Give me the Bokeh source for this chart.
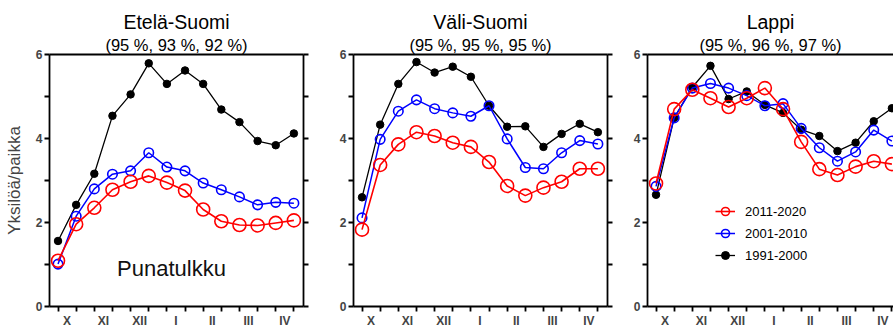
from bokeh.plotting import figure
from bokeh.models import Range1d, LinearAxis, FixedTicker, Label, Legend, LegendItem, Title
from bokeh.layouts import row
from bokeh.embed import file_html
from bokeh.resources import INLINE

# ---------------- data ----------------
months = ["X", "XI", "XII", "I", "II", "III", "IV"]
n_periods = 14  # two half-month periods per month

regions = ["Etelä-Suomi", "Väli-Suomi", "Lappi"]
shares = ["(95 %, 93 %, 92 %)", "(95 %, 95 %, 95 %)", "(95 %, 96 %, 97 %)"]
series_labels = ["2011-2020", "2001-2010", "1991-2000"]
species = "Punatulkku"
y_label = "Yksilöä/paikka"

etela_2011_2020 = [1.09, 1.96, 2.35, 2.78, 2.97, 3.11, 2.95, 2.76, 2.31, 2.03, 1.94, 1.93, 1.99, 2.05]
etela_2001_2010 = [1.01, 2.15, 2.80, 3.15, 3.23, 3.66, 3.32, 3.23, 2.94, 2.78, 2.61, 2.42, 2.48, 2.46]
etela_1991_2000 = [1.56, 2.42, 3.16, 4.54, 5.05, 5.79, 5.30, 5.62, 5.30, 4.69, 4.39, 3.94, 3.84, 4.12]

vali_2011_2020 = [1.83, 3.37, 3.86, 4.15, 4.06, 3.90, 3.80, 3.44, 2.87, 2.64, 2.83, 2.97, 3.28, 3.28]
vali_2001_2010 = [2.11, 3.98, 4.65, 4.92, 4.71, 4.61, 4.53, 4.78, 3.99, 3.31, 3.28, 3.66, 3.95, 3.87]
vali_1991_2000 = [2.60, 4.33, 5.30, 5.82, 5.57, 5.71, 5.47, 4.78, 4.28, 4.29, 3.80, 4.11, 4.35, 4.15]

lappi_2011_2020 = [2.93, 4.70, 5.16, 4.96, 4.75, 4.96, 5.20, 4.70, 3.92, 3.27, 3.13, 3.33, 3.46, 3.39]
lappi_2001_2010 = [2.86, 4.49, 5.20, 5.31, 5.20, 5.02, 4.78, 4.83, 4.24, 3.78, 3.46, 3.68, 4.20, 3.94]
lappi_1991_2000 = [2.66, 4.49, 5.22, 5.73, 4.94, 5.12, 4.80, 4.61, 4.21, 4.06, 3.70, 3.90, 4.41, 4.72]

panel_data = [
    (etela_2011_2020, etela_2001_2010, etela_1991_2000),
    (vali_2011_2020, vali_2001_2010, vali_1991_2000),
    (lappi_2011_2020, lappi_2001_2010, lappi_1991_2000),
]

# ---------------- layout / style ----------------
FONT = "Liberation Sans"
FRAME_H = 252
TOP, BOTTOM = 54, 22
X_START = -0.485
PX_PER_UNIT = 254 / 7.0
# half-month period centres: month k spans k-0.5 .. k+0.5
x_pos = [i * 0.5 - 0.25 for i in range(n_periods)]

panel_cfg = [
    dict(frame_w=254, min_left=49, min_right=10, right_axis=True),
    dict(frame_w=254, min_left=40, min_right=10, right_axis=True),
    dict(frame_w=246, min_left=30, min_right=0, right_axis=False),
]

styles = {
    "2011-2020": dict(color="#FF0000", size=13, fill=None, lw=1.6, mlw=1.6),
    "2001-2010": dict(color="#0000FF", size=9.5, fill=None, lw=1.5, mlw=1.6),
    "1991-2000": dict(color="#000000", size=7.5, fill="#000000", lw=1.3, mlw=1.0),
}

LW = 1.8

figs = []
for k in range(3):
    cfg = panel_cfg[k]
    x_end = X_START + cfg["frame_w"] / PX_PER_UNIT
    p = figure(frame_width=cfg["frame_w"], frame_height=FRAME_H,
               x_range=Range1d(X_START, x_end), y_range=Range1d(0, 6),
               min_border_left=cfg["min_left"], min_border_right=cfg["min_right"],
               min_border_top=TOP, min_border_bottom=BOTTOM,
               x_axis_type=None, y_axis_type=None,
               output_backend="svg", toolbar_location=None)
    p.outline_line_color = None
    p.background_fill_color = "white"
    p.border_fill_color = "white"

    # left axis
    left = LinearAxis(ticker=FixedTicker(ticks=[0, 2, 4, 6], minor_ticks=[1, 3, 5]),
                      major_tick_out=5, major_tick_in=0, minor_tick_out=5, minor_tick_in=0,
                      axis_line_width=LW, major_tick_line_width=LW, minor_tick_line_width=LW,
                      major_label_text_font=FONT, major_label_text_font_style="bold",
                      major_label_text_font_size="12px", major_label_standoff=2)
    if k == 0:
        left.axis_label = y_label
        left.axis_label_text_font = FONT
        left.axis_label_text_font_style = "normal"
        left.axis_label_text_font_size = "17px"
        left.axis_label_standoff = 9
    p.add_layout(left, "left")

    # bottom axis: month labels centred between half-month ticks
    bottom = LinearAxis(ticker=FixedTicker(ticks=list(range(len(months))), minor_ticks=x_pos),
                        major_tick_out=5, major_tick_in=0, major_tick_line_color=None,
                        minor_tick_out=5, minor_tick_in=0,
                        axis_line_width=LW, minor_tick_line_width=LW,
                        major_label_overrides={i: m for i, m in enumerate(months)},
                        major_label_text_font=FONT, major_label_text_font_style="bold",
                        major_label_text_font_size="12px", major_label_standoff=2)
    p.add_layout(bottom, "below")

    # top frame line
    top = LinearAxis(ticker=FixedTicker(ticks=[0]), major_tick_out=0, major_tick_in=0,
                     minor_tick_out=0, minor_tick_in=0, axis_line_width=LW,
                     major_tick_line_color=None,
                     major_label_overrides={0: ""},
                     major_label_text_font_size="0px", major_label_standoff=0)
    p.add_layout(top, "above")

    if cfg["right_axis"]:
        right = LinearAxis(ticker=FixedTicker(ticks=[0, 1, 2, 3, 4, 5, 6]),
                           major_tick_out=5, major_tick_in=0, minor_tick_out=0, minor_tick_in=0,
                           axis_line_width=LW, major_tick_line_width=LW,
                           major_label_overrides={i: "" for i in range(7)},
                           major_label_text_font_size="0px", major_label_standoff=0)
        p.add_layout(right, "right")

    # titles (subtitle first so it sits nearest the frame)
    p.add_layout(Title(text=shares[k], align="center", offset=-3.5, standoff=2,
                       text_font=FONT, text_font_size="16.5px", text_font_style="normal",
                       text_color="black"), "above")
    p.add_layout(Title(text=regions[k], align="center", offset=-3.5, standoff=0,
                       text_font=FONT, text_font_size="19.5px", text_font_style="normal",
                       text_color="black"), "above")

    # series (draw oldest first so the newest sits on top)
    renderers = {}
    for label, vals in reversed(list(zip(series_labels, panel_data[k]))):
        st = styles[label]
        rl = p.line(x_pos, vals, line_color=st["color"], line_width=st["lw"])
        rs = p.scatter(x_pos, vals, marker="circle", size=st["size"], line_color=st["color"],
                       fill_color=st["fill"], line_width=st["mlw"])
        renderers[label] = [rl, rs]

    if k == 0:
        p.add_layout(Label(x=X_START + 122 / PX_PER_UNIT, y=0.9, text=species, text_align="center",
                           text_baseline="alphabetic", text_font=FONT,
                           text_font_size="22px", text_color="#111111"))

    if k == 2:
        items = [LegendItem(label=lab, renderers=renderers[lab]) for lab in series_labels]
        leg = Legend(items=items, location=(68, 41), orientation="vertical",
                     background_fill_alpha=0, border_line_color=None, padding=0, margin=0,
                     spacing=2, glyph_width=20, glyph_height=20, label_height=20,
                     label_standoff=10, label_text_font=FONT, label_text_font_size="13px",
                     label_text_color="black")
        p.add_layout(leg, "center")

    figs.append(p)

layout = row(*figs)
open("out.html", "w").write(file_html(layout, INLINE))
